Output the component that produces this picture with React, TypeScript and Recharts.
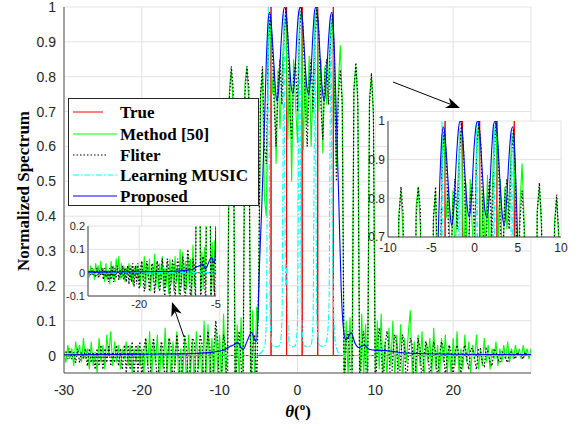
import React from 'react';
import { LineChart, Line, XAxis, YAxis, CartesianGrid } from 'recharts';

// angle grid for the noisy estimators, 0.25 deg steps from -30 to 30
const theta = Array.from({ length: 241 }, (_, i) => -30 + i * 0.25);

const method50 = [
  // -30 .. -20
  0.01, -0.02, 0.03, -0.01, 0.02, -0.03, 0.04, 0.0, 0.03, -0.02,
  0.05, -0.01, 0.02, -0.04, 0.04, -0.03, 0.01, -0.05, 0.05, -0.02,
  0.03, -0.04, 0.06, 0.0, 0.07, -0.03, 0.04, -0.02, 0.03, -0.04,
  0.02, -0.01, 0.04, -0.03, 0.03, -0.05, 0.02, -0.02, 0.03, -0.03,
  0.02,
  // -19.75 .. -11
  -0.06, 0.05, -0.03, 0.07, -0.07, 0.04, -0.02, 0.06, -0.08, 0.03, -0.04, 0.08,
  -0.06, 0.05, -0.07, 0.04, -0.03, 0.07, -0.08, 0.02, -0.06, 0.05, -0.09, 0.06,
  -0.05, 0.04, -0.08, 0.07, -0.04, 0.03, -0.09, 0.1, -0.06, 0.09, -0.08, 0.05,
  // -10.75 .. -4.25
  -0.07, 0.08, -0.05, 0.06, -0.1, 0.12, -0.06, 0.02, 0.76, 0.82, 0.7, -0.08, 0.09,
  -0.07, 0.11, -0.05, 0.78, 0.83, 0.72, -0.1, 0.13, -0.08, 0.14, 0.1, 0.74, 0.82, 0.45,
  // -4 .. 5
  0.4, 0.92, 0.97, 0.75, 0.83, 0.55, 0.82, 0.65, 0.8, 0.93, 0.98, 0.62, 0.84, 0.5, 0.85, 0.72,
  0.61, 0.95, 0.99, 0.59, 0.82, 0.66, 0.86, 0.6, 0.78, 0.96, 1.0, 0.7, 0.85, 0.58, 0.83, 0.72,
  0.8, 0.93, 0.97, 0.75, 0.54,
  // 5.25 .. 11
  0.78, 0.89, 0.73, -0.08, 0.1, -0.06, 0.11, -0.05, 0.77, 0.83, 0.72, -0.09,
  0.12, -0.06, 0.09, -0.08, 0.74, 0.8, 0.69, -0.06, 0.1, -0.04, 0.12, -0.07,
  // 11.25 .. 30
  0.04, -0.06, 0.08, -0.03, 0.1, -0.07, 0.06, -0.04, 0.09, -0.08, 0.05, -0.02,
  0.07, 0.13, -0.06, 0.04, -0.07, 0.06, -0.03, 0.07, -0.08, 0.04, -0.02, 0.05,
  -0.06, 0.08, -0.04, 0.03, -0.07, 0.05, -0.02, 0.06, -0.05, 0.03, -0.06, 0.05,
  -0.03, 0.07, -0.05, 0.02, -0.04, 0.06, -0.02, 0.04, -0.05, 0.03, -0.01, 0.06,
  -0.04, 0.02, -0.03, 0.05, -0.02, 0.03, -0.04, 0.02, -0.01, 0.04, -0.03, 0.02,
  -0.02, 0.03, -0.01, 0.04, -0.02, 0.02, -0.01, 0.03, 0.0, 0.02, -0.01, 0.03,
  0.0, 0.02, -0.01, 0.02,
];

const fliter = [
  // -30 .. -20
  0.0, 0.01, -0.01, 0.02, -0.01, 0.01, -0.02, 0.02, -0.02, 0.01,
  -0.01, 0.02, -0.03, 0.02, -0.02, 0.01, -0.04, 0.02, -0.03, 0.03,
  -0.04, 0.02, -0.02, 0.03, -0.03, 0.01, -0.02, 0.03, -0.03, 0.02,
  -0.04, 0.03, -0.05, 0.03, -0.04, 0.04, -0.06, 0.03, -0.05, 0.04,
  -0.07,
  // -19.75 .. -11
  0.02, 0.05, -0.02, -0.08, 0.01, 0.05, 0.0, -0.08, -0.01, 0.04, 0.02, -0.09,
  -0.02, 0.05, 0.03, -0.08, -0.03, 0.06, 0.01, -0.1, 0.0, 0.06, 0.02, -0.1,
  -0.01, 0.05, 0.04, -0.11, -0.02, 0.06, 0.03, -0.12, 0.0, 0.07, 0.02, -0.13,
  // -10.75 .. -4.25
  0.02, 0.1, 0.04, -0.12, -0.05, 0.06, 0.03, -0.15, 0.74, 0.83, 0.76, -0.15, 0.02,
  0.07, -0.02, -0.15, 0.75, 0.83, 0.77, -0.15, 0.03, 0.06, -0.1, 0.2, 0.75, 0.83, 0.6,
  // -4 .. 5
  0.55, 0.88, 0.98, 0.9, 0.72, 0.6, 0.78, 0.85, 0.72, 0.9, 1.0, 0.92, 0.7, 0.62, 0.8, 0.84,
  0.7, 0.92, 1.0, 0.93, 0.72, 0.6, 0.78, 0.85, 0.7, 0.9, 1.0, 0.92, 0.72, 0.62, 0.8, 0.85,
  0.72, 0.9, 0.98, 0.85, 0.5,
  // 5.25 .. 11
  0.74, 0.82, 0.72, -0.12, 0.04, 0.07, -0.03, -0.14, 0.76, 0.84, 0.74, -0.14,
  0.03, 0.07, -0.02, -0.13, 0.72, 0.81, 0.7, -0.12, 0.02, 0.08, 0.03, -0.1,
  // 11.25 .. 30
  0.03, 0.07, 0.02, -0.11, 0.0, 0.06, 0.03, -0.1, -0.01, 0.06, 0.02, -0.09,
  0.0, 0.05, 0.03, -0.09, -0.01, 0.05, 0.02, -0.08, 0.0, 0.04, 0.02, -0.07,
  -0.01, 0.04, 0.01, -0.07, 0.0, 0.04, 0.02, -0.06, 0.0, 0.03, 0.01, -0.06,
  0.01, 0.03, 0.0, -0.05, 0.01, 0.03, -0.01, -0.04, 0.02, 0.02, -0.01, -0.04,
  0.02, 0.02, -0.02, -0.03, 0.02, 0.01, -0.02, -0.03, 0.02, 0.01, -0.01, -0.02,
  0.01, 0.01, -0.01, -0.02, 0.01, 0.01, 0.0, -0.01, 0.01, 0.0, 0.0, -0.01,
  0.01, 0.0, 0.0, 0.0,
];

const trueDoa = [-3.4, -1.4, 0.6, 2.6, 4.6];

const musicTheta = [
  -30, -5.5, -4.6, -4.2, -4.0, -3.88, -3.75, -3.62, -3.5, -3.25,
  -2.7, -2.25, -2.0, -1.88, -1.75, -1.62, -1.52, -1.4, -1.25, -1.0,
  -0.6, -0.25, 0.0, 0.12, 0.25, 0.38, 0.5, 0.8, 1.3, 1.75,
  2.0, 2.12, 2.25, 2.38, 2.5, 2.8, 3.4, 3.8, 4.05, 4.18,
  4.3, 4.42, 4.6, 4.8, 5.2, 5.6, 30,
];
const musicVals = [
  0, 0, 0.01, 0.03, 0.1, 0.5, 1.0, 0.5, 0.1, 0.03,
  0.025, 0.03, 0.1, 0.5, 0.98, 0.45, 0.2, 0.26, 0.1, 0.03,
  0.025, 0.03, 0.1, 0.5, 1.0, 0.5, 0.12, 0.03, 0.025, 0.03,
  0.1, 0.5, 0.99, 0.45, 0.1, 0.03, 0.025, 0.05, 0.15, 0.6,
  0.97, 0.5, 0.18, 0.05, 0.01, 0, 0,
];

const proposedTheta = [
  -30, -25, -20, -15, -13.4, -10.9, -9.5, -8.7, -8.2, -7.7,
  -7.0, -6.5, -5.9, -5.6, -5.3, -5.1, -4.9, -4.6, -4.3, -4.0,
  -3.8, -3.6, -3.4, -3.1, -2.85, -2.65, -2.4, -2.1, -1.85, -1.65,
  -1.4, -1.1, -0.8, -0.6, -0.35, -0.05, 0.2, 0.4, 0.65, 0.95,
  1.2, 1.45, 1.7, 2.0, 2.2, 2.4, 2.65, 2.95, 3.2, 3.45,
  3.7, 4.0, 4.25, 4.45, 4.7, 5.0, 5.3, 5.6, 5.85, 6.2,
  6.9, 7.4, 7.9, 8.6, 9.2, 10.1, 11, 12.2, 13.5, 15.6,
  20, 25, 30,
];
const proposedVals = [
  0.002, 0.003, 0.004, 0.005, 0.006, 0.01, 0.015, 0.026, 0.03, 0.037,
  0.017, 0.04, 0.066, 0.05, 0.04, 0.1, 0.25, 0.42, 0.62, 0.85,
  0.95, 0.985, 0.96, 0.86, 0.77, 0.73, 0.77, 0.9, 0.98, 1.0,
  0.97, 0.86, 0.77, 0.752, 0.8, 0.93, 0.99, 1.0, 0.96, 0.85,
  0.77, 0.75, 0.8, 0.93, 0.99, 1.0, 0.96, 0.84, 0.76, 0.73,
  0.79, 0.91, 0.975, 0.985, 0.9, 0.68, 0.45, 0.2, 0.09, 0.045,
  0.065, 0.035, 0.023, 0.03, 0.018, 0.015, 0.015, 0.012, 0.008, 0.006,
  0.004, 0.003, 0.003,
];

const mainXTicks = [-30, -20, -10, 0, 10, 20];
const mainYTicks = [0, 0.1, 0.2, 0.3, 0.4, 0.5, 0.6, 0.7, 0.8, 0.9, 1];
const zoomLowXTicks = [-20, -5];
const zoomLowYTicks = [-0.1, 0, 0.1, 0.2];
const zoomPeakXTicks = [-10, -5, 0, 5, 10];
const zoomPeakYTicks = [0.7, 0.8, 0.9, 1];

const sans = '"Liberation Sans", Arial, Helvetica, sans-serif';
const serif = '"Liberation Serif", "Times New Roman", Times, serif';

const toRows = (xs: number[], ys: number[]) => xs.map((x, i) => ({ x, y: ys[i] }));

const trueRows = [
  { x: -30, y: 0 },
  ...trueDoa.flatMap((d) => [
    { x: d, y: 0 },
    { x: d, y: 1 },
    { x: d, y: 0 },
  ]),
  { x: 30, y: 0 },
];

const series = [
  { key: 'true', label: 'True', rows: trueRows, color: '#ff0000', width: 1, dash: undefined, curve: 'linear', legendLen: 30 },
  { key: 'm50', label: 'Method [50]', rows: toRows(theta, method50), color: '#00ff00', width: 1.1, dash: undefined, curve: 'linear', legendLen: 44 },
  { key: 'fliter', label: 'Fliter', rows: toRows(theta, fliter), color: '#000000', width: 1.2, dash: '1.5 2', curve: 'linear', legendLen: 35 },
  { key: 'music', label: 'Learning MUSIC', rows: toRows(musicTheta, musicVals), color: '#00ffff', width: 1.1, dash: '6 2 1.5 2', curve: 'monotone', legendLen: 44 },
  { key: 'prop', label: 'Proposed', rows: toRows(proposedTheta, proposedVals), color: '#0000ff', width: 1.1, dash: undefined, curve: 'monotone', legendLen: 44 },
];

const renderLines = () =>
  series.map((s) => (
    <Line
      key={s.key}
      data={s.rows}
      dataKey="y"
      type={s.curve as any}
      stroke={s.color}
      strokeWidth={s.width}
      strokeDasharray={s.dash}
      dot={false}
      activeDot={false}
      isAnimationActive={false}
      legendType="none"
    />
  ));

// peak inset frame (page pixels) and its x domain, used for its tick labels
const peakBox = { left: 388, top: 121, width: 173, height: 116 };
const peakDomain = [-10, 10];
const peakX = (v: number) =>
  peakBox.left + ((v - peakDomain[0]) / (peakDomain[1] - peakDomain[0])) * peakBox.width;

const Arrow = ({ x1, y1, x2, y2 }: { x1: number; y1: number; x2: number; y2: number }) => {
  const dx = x2 - x1;
  const dy = y2 - y1;
  const len = Math.hypot(dx, dy);
  const ux = dx / len;
  const uy = dy / len;
  const px = -uy;
  const py = ux;
  const hl = 14;
  const hw = 5.5;
  const notch = 4;
  const bx = x2 - ux * hl;
  const by = y2 - uy * hl;
  const nx = x2 - ux * (hl - notch);
  const ny = y2 - uy * (hl - notch);
  const pts = [
    [x2, y2],
    [bx + px * hw, by + py * hw],
    [nx, ny],
    [bx - px * hw, by - py * hw],
  ]
    .map((p) => p.join(','))
    .join(' ');
  return (
    <g>
      <line x1={x1} y1={y1} x2={nx} y2={ny} stroke="#000" strokeWidth={1} />
      <polygon points={pts} fill="#000" />
    </g>
  );
};

const legendRowsY = [112, 134, 155, 175, 196];

export default function App() {
  return (
    <div style={{ position: 'absolute', left: 0, top: 0, width: 581, height: 429, background: '#fff' }}>
      {/* main axes */}
      <div style={{ position: 'absolute', left: 0, top: 0 }}>
        <LineChart width={581} height={429} margin={{ top: 7, right: 50, bottom: 0, left: 0 }}>
          <CartesianGrid stroke="#e2e2e2" />
          <XAxis
            dataKey="x"
            type="number"
            domain={[-30, 30]}
            ticks={mainXTicks}
            interval={0}
            allowDataOverflow
            height={56}
            tickLine={false}
            tickMargin={6}
            axisLine={{ stroke: '#555' }}
            tick={{ fill: '#262626', fontSize: 14, fontFamily: sans }}
          />
          <YAxis
            type="number"
            domain={[-0.05, 1]}
            ticks={mainYTicks}
            interval={0}
            allowDataOverflow
            width={64}
            tickLine={false}
            axisLine={{ stroke: '#555' }}
            tick={{ fill: '#262626', fontSize: 14, fontFamily: sans }}
          />
          {renderLines()}
        </LineChart>
      </div>

      {/* zoom on the low side lobes */}
      <div style={{ position: 'absolute', left: 48, top: 216 }}>
        <LineChart width={173} height={102} margin={{ top: 10, right: 5, bottom: 0, left: 0 }}>
          <CartesianGrid stroke="#e2e2e2" fill="#fff" />
          <XAxis
            dataKey="x"
            type="number"
            domain={[-30, -5]}
            ticks={zoomLowXTicks}
            interval={0}
            allowDataOverflow
            height={22}
            tickLine={false}
            tickSize={2}
            tickMargin={2}
            axisLine={{ stroke: '#444' }}
            tick={{ fill: '#262626', fontSize: 11, fontFamily: sans }}
          />
          <YAxis
            type="number"
            domain={[-0.1, 0.2]}
            ticks={zoomLowYTicks}
            interval={0}
            allowDataOverflow
            width={40}
            tickLine={false}
            tickSize={2}
            tickMargin={1}
            axisLine={{ stroke: '#444' }}
            tick={{ fill: '#262626', fontSize: 11, fontFamily: sans }}
          />
          {renderLines()}
        </LineChart>
      </div>

      {/* zoom on the main peaks */}
      <div style={{ position: 'absolute', left: 352, top: 110 }}>
        <LineChart width={217} height={149} margin={{ top: 11, right: 8, bottom: 0, left: 0 }}>
          <CartesianGrid stroke="#e2e2e2" fill="#fff" />
          <XAxis
            dataKey="x"
            type="number"
            domain={peakDomain}
            ticks={zoomPeakXTicks}
            interval={0}
            allowDataOverflow
            height={22}
            tickLine={false}
            tick={false}
            axisLine={{ stroke: '#444' }}
          />
          <YAxis
            type="number"
            domain={[0.7, 1]}
            ticks={zoomPeakYTicks}
            interval={0}
            allowDataOverflow
            width={36}
            tickLine={false}
            tickSize={2}
            tickMargin={1}
            axisLine={{ stroke: '#444' }}
            tick={{ fill: '#262626', fontSize: 12, fontFamily: sans }}
          />
          {renderLines()}
        </LineChart>
      </div>

      {/* labels, legend and arrows */}
      <svg
        width={581}
        height={429}
        style={{ position: 'absolute', left: 0, top: 0, pointerEvents: 'none' }}
      >
        <text
          x={23}
          y={191}
          transform="rotate(-90 23 191)"
          textAnchor="middle"
          dominantBaseline="central"
          fontFamily={serif}
          fontWeight="bold"
          fontSize={17}
          fill="#000"
        >
          Normalized Spectrum
        </text>
        <text x={298} y={417} textAnchor="middle" fontFamily={serif} fontWeight="bold" fontSize={17} fill="#000">
          <tspan fontStyle="italic">θ</tspan>
          <tspan>(</tspan>
          <tspan dy={-7} fontSize={11}>o</tspan>
          <tspan dy={7}>)</tspan>
        </text>

        {zoomPeakXTicks.map((v) => (
          <text
            key={v}
            x={peakX(v)}
            y={peakBox.top + peakBox.height + 15}
            textAnchor="middle"
            fill="#262626"
            fontSize={12}
            fontFamily={sans}
          >
            {v}
          </text>
        ))}

        <rect x={68.5} y={98.5} width={190} height={107} fill="#fff" stroke="#262626" strokeWidth={1} />
        {series.map((s, i) => (
          <g key={s.key}>
            <line
              x1={73}
              x2={73 + s.legendLen}
              y1={legendRowsY[i]}
              y2={legendRowsY[i]}
              stroke={s.color}
              strokeWidth={s.width}
              strokeDasharray={s.dash}
            />
            <text x={120} y={legendRowsY[i] + 6} fontFamily={serif} fontWeight="bold" fontSize={17} fill="#000">
              {s.label}
            </text>
          </g>
        ))}

        <Arrow x1={393} y1={82} x2={460} y2={108} />
        <Arrow x1={184} y1={337} x2={172} y2={302} />
      </svg>
    </div>
  );
}
